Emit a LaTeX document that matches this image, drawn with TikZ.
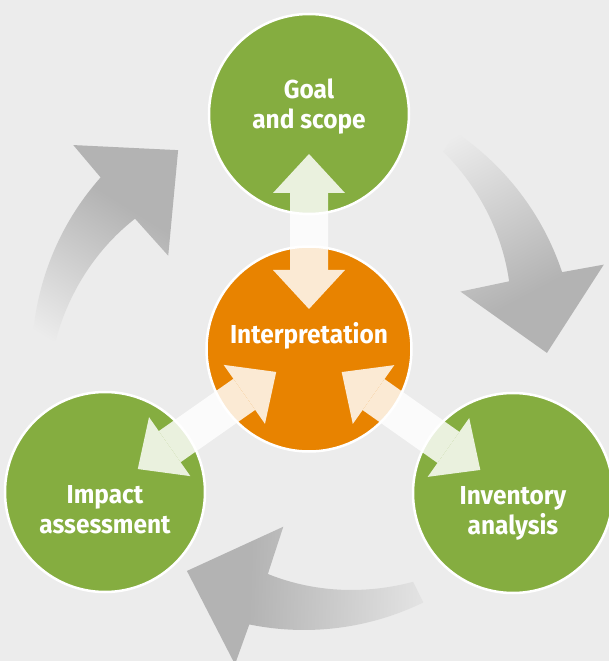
\documentclass[tikz,border=0pt]{standalone}
\usepackage{fontspec}
\setmainfont{Fira Sans}[FakeStretch=0.94]
\usetikzlibrary{positioning, arrows.meta, calc}
\definecolor{bgpaper}{HTML}{ECECEC}
\definecolor{stagegreen}{HTML}{85AD40}
\definecolor{coreorange}{HTML}{E88300}
\definecolor{cyclegray}{HTML}{B3B3B3}
% fade from the paper colour at the tail to full grey at the head
\pgfdeclarehorizontalshading{cycfade}{100bp}{color(0bp)=(bgpaper); color(18bp)=(bgpaper);
  color(62bp)=(cyclegray); color(100bp)=(cyclegray)}

\begin{document}
\begin{tikzpicture}[
    x=1pt, y=1pt,
    stage/.style={circle, draw=white, line width=2.5pt, fill=stagegreen,
                  minimum size=200pt, inner sep=0pt},
    core/.style={stage, fill=coreorange, minimum size=205pt},
    lbl/.style={font=\fontsize{26}{30}\selectfont\bfseries, text=white, align=center},
    link/.style={white, line width=38pt, {Triangle[width=72pt, length=39pt, line width=0pt]}-{Triangle[width=72pt, length=39pt, line width=0pt]},
                 shorten <=40pt, shorten >=40pt},
    cyc/.style={shading=cycfade},
  ]
  % paper
  \fill[bgpaper] (-309,-312) rectangle (300,349);
  \useasboundingbox (-309,-312) rectangle (300,349);

  % the three grey cycle arrows, 120 degrees apart
  \begin{scope}[shift={(-5,-9)}]
    \foreach \a [evaluate=\a as \s using \a+20.5, evaluate=\a as \e using \a+56,
                 evaluate=\a as \r using \a-62] in {0,120,240}
      \shade[cyc, shading angle=\r]
        (\e:272) arc[start angle=\e, end angle=\a+18.4, radius=272]
        -- (\a+17.3:314) -- (\a+1.2:243) -- (\a+23:170) -- (\s:219)
        -- plot[domain=\s:\e, samples=24] (\x:{219+(\x-\s)*30/35.5}) -- cycle;
  \end{scope}

  % stages
  \node[core, label={[lbl, yshift=13pt]center:Interpretation}] (interp) at (0,0) {};
  \node[stage, above=30pt of interp, label={[lbl, yshift=7pt]center:{Goal\\and scope}}] (goal) {};
  \node[stage, label={[lbl, yshift=-18pt]center:{Impact\\assessment}}] (impact) at ($(interp)+(-204,-143)$) {};
  \node[stage, label={[lbl, yshift=-20pt]center:{Inventory\\analysis}}] (invent) at ($(interp)+(204,-144)$) {};

  % two-way links to the middle
  \begin{scope}[transparency group, opacity=0.83]
    \draw[link] (interp.center) -- (goal.center);
    \draw[link] (interp.center) -- (impact.center);
    \draw[link] (interp.center) -- (invent.center);
  \end{scope}
\end{tikzpicture}
\end{document}
